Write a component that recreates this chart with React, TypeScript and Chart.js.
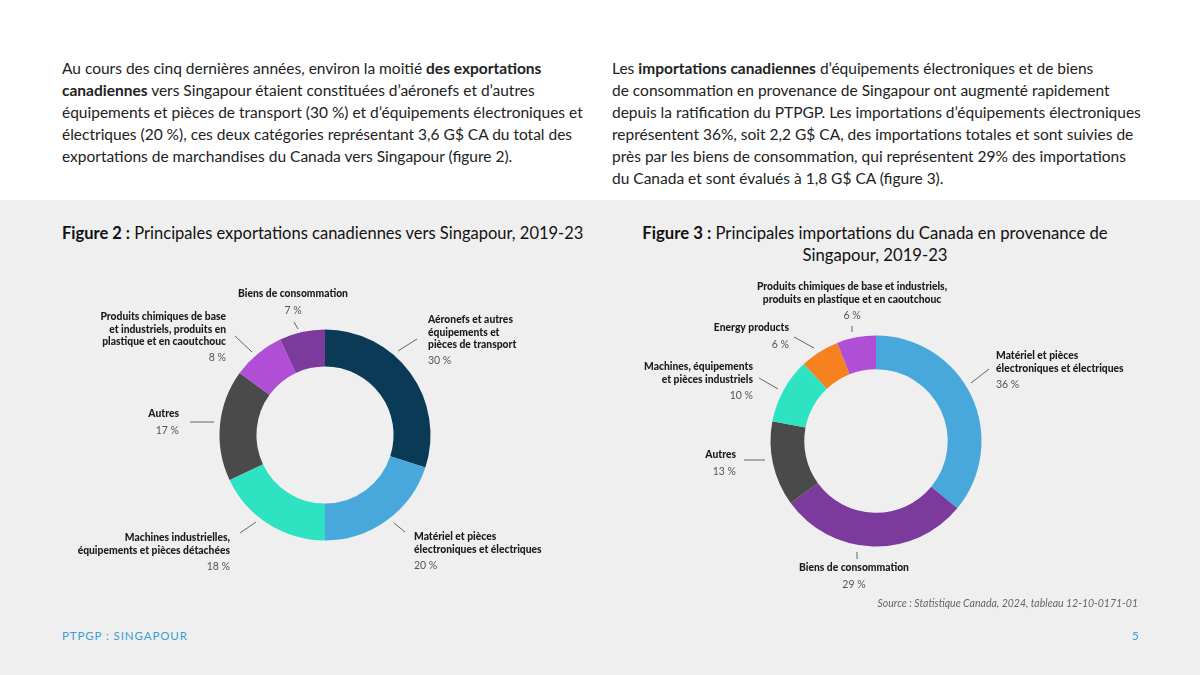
import React, { useEffect, useRef } from 'react';
import { Chart, registerables } from 'chart.js';

Chart.register(...registerables);

// ---------- DATA ----------
const exportCategories: string[][] = [
  ['Aéronefs et autres', 'équipements et', 'pièces de transport'],
  ['Matériel et pièces', 'électroniques et électriques'],
  ['Machines industrielles,', 'équipements et pièces détachées'],
  ['Autres'],
  ['Produits chimiques de base', 'et industriels, produits en', 'plastique et en caoutchouc'],
  ['Biens de consommation'],
];
const exportValues = [30, 20, 18, 17, 8, 7];
const exportColors = ['#0b3a57', '#48a8dc', '#2ee3c1', '#4a4a4a', '#b04fd6', '#7b3a9c'];

const importCategories: string[][] = [
  ['Matériel et pièces', 'électroniques et électriques'],
  ['Biens de consommation'],
  ['Autres'],
  ['Machines, équipements', 'et pièces industriels'],
  ['Energy products'],
  ['Produits chimiques de base et industriels,', 'produits en plastique et en caoutchouc'],
];
const importValues = [36, 29, 13, 10, 6, 6];
const importColors = ['#48a8dc', '#7b3a9c', '#4a4a4a', '#2ee3c1', '#f5821f', '#b04fd6'];

// ---------- LABEL LAYOUT (relative to donut centre) ----------
type LabelPos = { line: number[]; tx: number; ty: number; align: CanvasTextAlign };
const exportLayout: LabelPos[] = [
  { line: [73, -84, 92, -96], tx: 103, ty: -115, align: 'left' },
  { line: [69, 88, 80, 97], tx: 89, ty: 102, align: 'left' },
  { line: [-69, 87, -85, 98], tx: -95, ty: 103, align: 'right' },
  { line: [-111, -13, -135, -13], tx: -146, ty: -21, align: 'right' },
  { line: [-73, -83, -90, -99], tx: -99, ty: -118, align: 'right' },
  { line: [-27, -106, -31, -113], tx: -32, ty: -141, align: 'center' },
];
const importLayout: LabelPos[] = [
  { line: [95, -58, 113, -72], tx: 120, ty: -85, align: 'left' },
  { line: [-19, 111, -19, 118], tx: -22, ty: 127, align: 'center' },
  { line: [-111, 19, -132, 19], tx: -140, ty: 14, align: 'right' },
  { line: [-98, -52, -117, -63], tx: -123, ty: -74, align: 'right' },
  { line: [-62, -93, -82, -104], tx: -87, ty: -113, align: 'right' },
  { line: [-24, -109, -24, -115], tx: -24, ty: -154, align: 'center' },
];

const FONT = 'Lato, "Noto Sans", sans-serif';

function makeLabelPlugin(cats: string[][], layout: LabelPos[]) {
  return {
    id: 'donutLabels',
    afterDatasetsDraw(chart: any) {
      const ctx = chart.ctx as CanvasRenderingContext2D;
      const meta = chart.getDatasetMeta(0);
      const values = chart.data.datasets[0].data as number[];
      meta.data.forEach((arc: any, i: number) => {
        const cx = arc.x;
        const cy = arc.y;
        const L = layout[i];
        ctx.save();
        ctx.strokeStyle = '#555';
        ctx.lineWidth = 0.9;
        ctx.beginPath();
        ctx.moveTo(cx + L.line[0], cy + L.line[1]);
        ctx.lineTo(cx + L.line[2], cy + L.line[3]);
        ctx.stroke();
        ctx.textAlign = L.align;
        ctx.textBaseline = 'middle';
        ctx.fillStyle = '#1a1a1a';
        ctx.font = `900 10.3px ${FONT}`;
        const lines = cats[i];
        lines.forEach((t, k) => {
          ctx.fillText(t, cx + L.tx, cy + L.ty + k * 12.3);
        });
        ctx.fillStyle = '#555';
        ctx.font = `10.5px ${FONT}`;
        ctx.fillText(`${values[i]} %`, cx + L.tx, cy + L.ty + (lines.length - 1) * 12.3 + 16.5);
        ctx.restore();
      });
    },
  };
}

function Donut(props: {
  values: number[];
  colors: string[];
  cats: string[][];
  layout: LabelPos[];
  cutout: string;
  padding: { left: number; right: number; top: number; bottom: number };
  style: React.CSSProperties;
}) {
  const ref = useRef<HTMLCanvasElement>(null);
  useEffect(() => {
    const chart = new Chart(ref.current!, {
      type: 'doughnut',
      data: {
        labels: props.cats.map((c) => c.join(' ')),
        datasets: [
          {
            data: props.values,
            backgroundColor: props.colors,
            borderWidth: 0,
          },
        ],
      },
      options: {
        responsive: false,
        animation: false,
        cutout: props.cutout,
        layout: { padding: props.padding },
        plugins: { legend: { display: false }, tooltip: { enabled: false } },
      },
      plugins: [makeLabelPlugin(props.cats, props.layout)],
    });
    return () => chart.destroy();
  }, []);
  const w = props.style.width as number;
  const h = props.style.height as number;
  return (
    <div style={{ position: 'absolute', ...props.style }}>
      <canvas ref={ref} width={w} height={h} style={{ width: w, height: h, display: 'block' }} />
    </div>
  );
}

const pStyle: React.CSSProperties = {
  position: 'absolute',
  top: 57,
  fontFamily: FONT,
  fontSize: 15.5,
  lineHeight: '22px',
  color: '#222',
  whiteSpace: 'nowrap',
  margin: 0,
};

export default function App() {
  return (
    <div
      style={{
        position: 'absolute',
        left: 0,
        top: 0,
        width: 1200,
        height: 675,
        background: '#ffffff',
        overflow: 'hidden',
        fontFamily: FONT,
      }}
    >
      <div style={{ position: 'absolute', left: 0, top: 200, width: 1200, height: 475, background: '#efefef' }} />
      <p style={{ ...pStyle, left: 62 }}>
        Au cours des cinq dernières années, environ la moitié <b>des exportations</b>
        <br />
        <b>canadiennes</b> vers Singapour étaient constituées d’aéronefs et d’autres
        <br />
        équipements et pièces de transport (30 %) et d’équipements électroniques et
        <br />
        électriques (20 %), ces deux catégories représentant 3,6 G$ CA du total des
        <br />
        exportations de marchandises du Canada vers Singapour (figure 2).
      </p>
      <p style={{ ...pStyle, left: 612 }}>
        Les <b>importations canadiennes</b> d’équipements électroniques et de biens
        <br />
        de consommation en provenance de Singapour ont augmenté rapidement
        <br />
        depuis la ratification du PTPGP. Les importations d’équipements électroniques
        <br />
        représentent 36%, soit 2,2 G$ CA, des importations totales et sont suivies de
        <br />
        près par les biens de consommation, qui représentent 29% des importations
        <br />
        du Canada et sont évalués à 1,8 G$ CA (figure 3).
      </p>

      <div
        style={{
          position: 'absolute',
          left: 62,
          top: 222,
          fontSize: 16.5,
          lineHeight: '22px',
          color: '#111',
          whiteSpace: 'nowrap',
        }}
      >
        <b>Figure 2 :</b> Principales exportations canadiennes vers Singapour, 2019-23
      </div>
      <div
        style={{
          position: 'absolute',
          left: 620,
          width: 510,
          top: 222,
          fontSize: 16.7,
          lineHeight: '22px',
          color: '#111',
          textAlign: 'center',
          whiteSpace: 'nowrap',
        }}
      >
        <b>Figure 3 :</b> Principales importations du Canada en provenance de
        <br />
        Singapour, 2019-23
      </div>

      <Donut
        values={exportValues}
        colors={exportColors}
        cats={exportCategories}
        layout={exportLayout}
        cutout="65%"
        padding={{ left: 179.5, right: 149.5, top: 59.5, bottom: 59.5 }}
        style={{ left: 40, top: 270, width: 540, height: 330 }}
      />
      <Donut
        values={importValues}
        colors={importColors}
        cats={importCategories}
        layout={importLayout}
        cutout="68%"
        padding={{ left: 150.5, right: 178.5, top: 65.5, bottom: 63.5 }}
        style={{ left: 620, top: 270, width: 540, height: 340 }}
      />

      <div
        style={{
          position: 'absolute',
          right: 62,
          top: 597,
          fontSize: 10.5,
          fontStyle: 'italic',
          color: '#666',
          whiteSpace: 'nowrap',
        }}
      >
        Source : Statistique Canada, 2024, tableau 12-10-0171-01
      </div>
      <div
        style={{
          position: 'absolute',
          left: 62,
          top: 629,
          fontSize: 11.5,
          letterSpacing: '0.9px',
          color: '#3a9fd6',
          whiteSpace: 'nowrap',
        }}
      >
        PTPGP : SINGAPOUR
      </div>
      <div
        style={{
          position: 'absolute',
          left: 1132,
          top: 629,
          fontSize: 11.5,
          color: '#3a9fd6',
        }}
      >
        5
      </div>
    </div>
  );
}
